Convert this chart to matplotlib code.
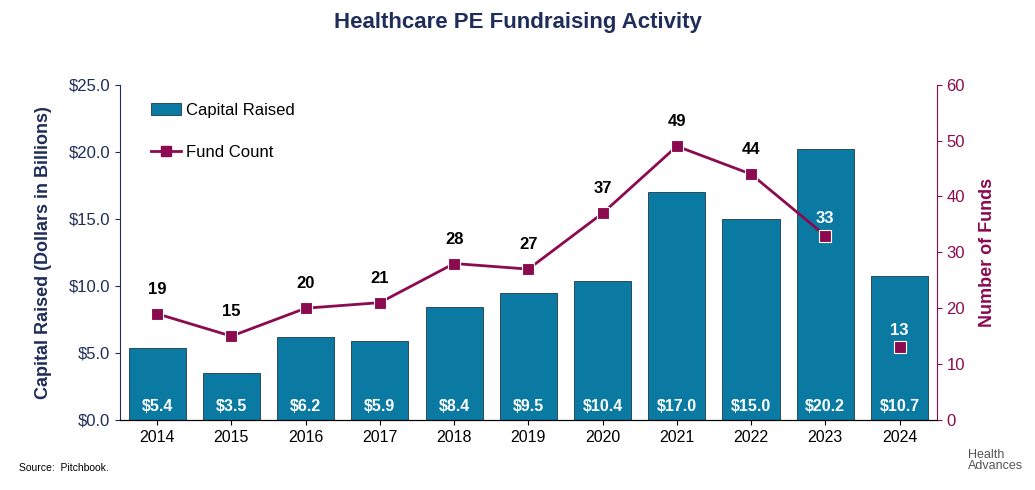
import matplotlib.pyplot as plt
from matplotlib.lines import Line2D
from matplotlib.patches import Patch

years = ['2014', '2015', '2016', '2017', '2018', '2019', '2020', '2021', '2022', '2023', '2024']
capital = [5.4, 3.5, 6.2, 5.9, 8.4, 9.5, 10.4, 17.0, 15.0, 20.2, 10.7]
funds = [19, 15, 20, 21, 28, 27, 37, 49, 44, 33, 13]

BAR = '#0a7aa3'
LINE = '#8b0a50'
NAVY = '#1f2d5a'

plt.rcParams['font.family'] = 'Liberation Sans'

fig = plt.figure(figsize=(10.35, 4.9), dpi=100)
ax = fig.add_axes([0.116, 0.143, 0.789, 0.684])
x = list(range(len(years)))

ax.bar(x, capital, width=0.77, color=BAR, edgecolor='#1a3a4a', linewidth=0.6)
for i, v in enumerate(capital):
    ax.text(i, 1.0, f'${v:.1f}', ha='center', va='center', color='white',
            fontsize=11.5, fontweight='bold')
ax.set_ylim(0, 25)
ax.set_xlim(-0.5, len(years) - 0.5)
ax.set_yticks([0, 5, 10, 15, 20, 25])
ax.set_yticklabels([f'${t:.1f}' for t in [0, 5, 10, 15, 20, 25]], color=NAVY, fontsize=12)
ax.set_xticks(x)
ax.set_xticklabels(years, fontsize=11.5)
ax.set_ylabel('Capital Raised (Dollars in Billions)', color=NAVY, fontsize=13,
              fontweight='bold', labelpad=12)
ax.tick_params(axis='y', colors=NAVY, labelcolor=NAVY)
ax.spines['top'].set_visible(False)
ax.spines['left'].set_color(NAVY)
ax.spines['right'].set_visible(False)

ax2 = ax.twinx()
ax2.plot(x[:-1], funds[:-1], color=LINE, linewidth=2, marker='s', markersize=8,
         markeredgecolor='white', markeredgewidth=0.8)
ax2.plot(x[-1], funds[-1], color=LINE, marker='s', markersize=8,
         markeredgecolor='white', markeredgewidth=0.8, linestyle='none')
for i, v in enumerate(funds):
    inside = capital[i] / 25 * 60 > v + 4
    ax2.text(i, v + 3, str(v), ha='center', va='bottom' if not inside else 'center',
             color='white' if inside else 'black', fontsize=12, fontweight='bold')
ax2.set_ylim(0, 60)
ax2.set_yticks(range(0, 61, 10))
ax2.tick_params(axis='y', colors=LINE, labelcolor=LINE, labelsize=12)
ax2.set_ylabel('Number of Funds', color=LINE, fontsize=13, fontweight='bold', labelpad=10)
ax2.spines['top'].set_visible(False)
ax2.spines['left'].set_visible(False)
ax2.spines['right'].set_color(LINE)

handles = [Patch(facecolor=BAR, edgecolor='#1a3a4a', linewidth=0.6),
           Line2D([0], [0], color=LINE, linewidth=2, marker='s', markersize=7)]
ax.legend(handles, ['Capital Raised', 'Fund Count'], loc='upper left',
          bbox_to_anchor=(0.02, 0.99), frameon=False, fontsize=12, labelspacing=1.6,
          handlelength=1.8, handletextpad=0.3)

fig.text(0.5, 0.955, 'Healthcare PE Fundraising Activity', ha='center', va='center',
         color=NAVY, fontsize=16, fontweight='bold')
fig.text(0.018, 0.045, 'Source:  Pitchbook.', fontsize=7.5, va='center')
fig.text(0.935, 0.06, 'Health\nAdvances', fontsize=9, color='#555555', va='center',
         linespacing=0.85)

fig.savefig('out.png', dpi=100)
